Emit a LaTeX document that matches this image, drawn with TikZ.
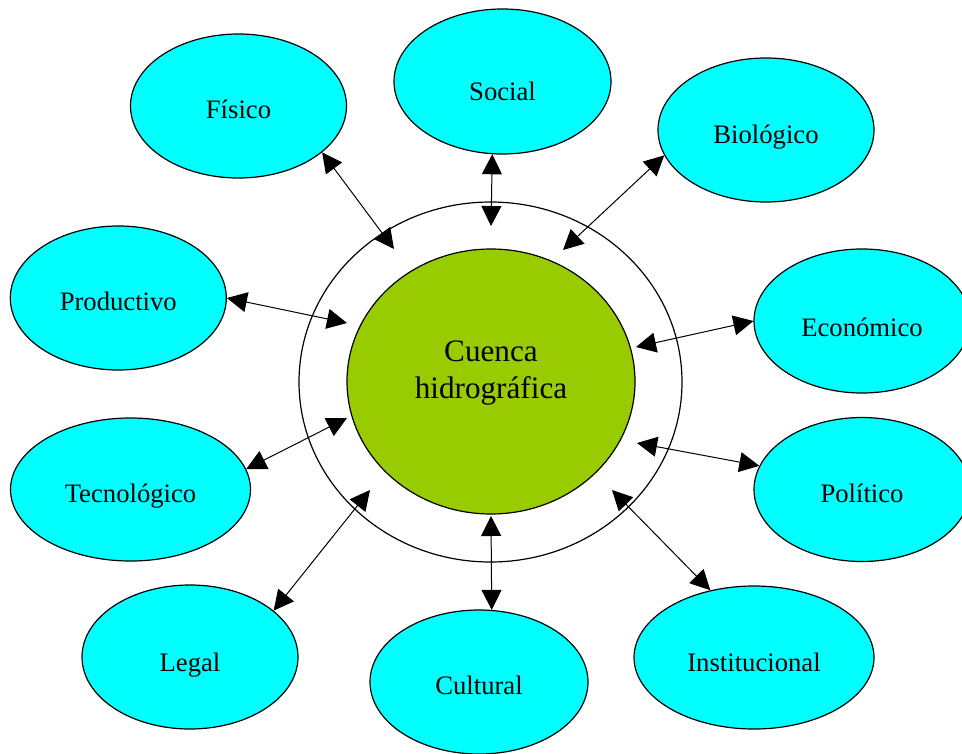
\documentclass[tikz,border=0pt]{standalone}
\usepackage{fontspec}
\setmainfont{Liberation Serif}
\usetikzlibrary{arrows.meta,shapes.geometric}
\definecolor{cian}{RGB}{0,255,255}
\definecolor{verde}{RGB}{153,204,0}
\begin{document}
\begin{tikzpicture}[x=0.75pt,y=-0.75pt,
  ovalo/.style={ellipse, draw=black, fill=cian, line width=0.9pt, inner sep=0pt,
    minimum width=162pt, minimum height=108pt,
    font=\fontsize{20}{24}\selectfont, text height=#1, text depth=0pt},
  ovalo/.default=19.5pt,
  ancho/.style={minimum width=180pt, minimum height=107.25pt},
  flecha/.style={line width=0.75pt,
    {Triangle[length=15pt,width=15pt]}-{Triangle[length=15pt,width=15pt]}}
]
\useasboundingbox (0,0) rectangle (962,753);
\fill[white] (0,0) rectangle (962,753);

% central rings
\node[ellipse, draw=black, fill=white, line width=0.9pt, inner sep=0pt,
  minimum width=287.25pt, minimum height=270pt] (anillo) at (490.5,382) {};
\node[ellipse, draw=black, fill=verde, line width=0.9pt, inner sep=0pt,
  minimum width=216pt, minimum height=198.75pt,
  font=\fontsize{23.4}{27.75}\selectfont, text height=20pt, text depth=21.5pt]
  (cuenca) at (491,381.5) {\begin{tabular}{@{}c@{}}Cuenca\\hidrográfica\end{tabular}};

% surrounding ellipses
\node[ovalo=18pt] (fis) at (238.5,106) {Físico};
\node[ovalo=27.75pt, minimum width=162.75pt, minimum height=108.75pt] (soc) at (502.5,81.5) {Social};
\node[ovalo=19.5pt] (bio) at (766,130) {Biológico};
\node[ovalo=18pt] (prod) at (118.3,298) {Productivo};
\node[ovalo=22.5pt] (eco) at (862,321) {Económico};
\node[ovalo=18.75pt, ancho] (tec) at (130.5,489.5) {Tecnológico};
\node[ovalo=18.75pt] (pol) at (862,489.5) {Político};
\node[ovalo=21pt] (leg) at (190,657) {Legal};
\node[ovalo=18pt, minimum width=163.5pt] (cul) at (479,682) {Cultural};
\node[ovalo=20.25pt, ancho] (ins) at (754,657.5) {Institucional};

% inner arrow ends (between the rings)
\coordinate (c1) at (394,249);
\coordinate (c2) at (491,226);
\coordinate (c3) at (563,250);
\coordinate (c4) at (347,323);
\coordinate (c5) at (636,347);
\coordinate (c6) at (347,418);
\coordinate (c7) at (637,443);
\coordinate (c8) at (370,490);
\coordinate (c9) at (491,516);
\coordinate (c10) at (612,490);

% connectors
\draw[flecha] (fis.-29.5) -- (c1);
\draw[flecha] (soc.-98.9) -- (c2);
\draw[flecha] (bio.-166.85) -- (c3);
\draw[flecha] (prod.east) -- (c4);
\draw[flecha] (eco.west) -- (c5);
\draw[flecha] (tec.10.5) -- (c6);
\draw[flecha] (pol.167.7) -- (c7);
\draw[flecha] (leg.29.45) -- (c8);
\draw[flecha] (cul.80.7) -- (c9);
\draw[flecha] (ins.123.3) -- (c10);
\end{tikzpicture}
\end{document}
